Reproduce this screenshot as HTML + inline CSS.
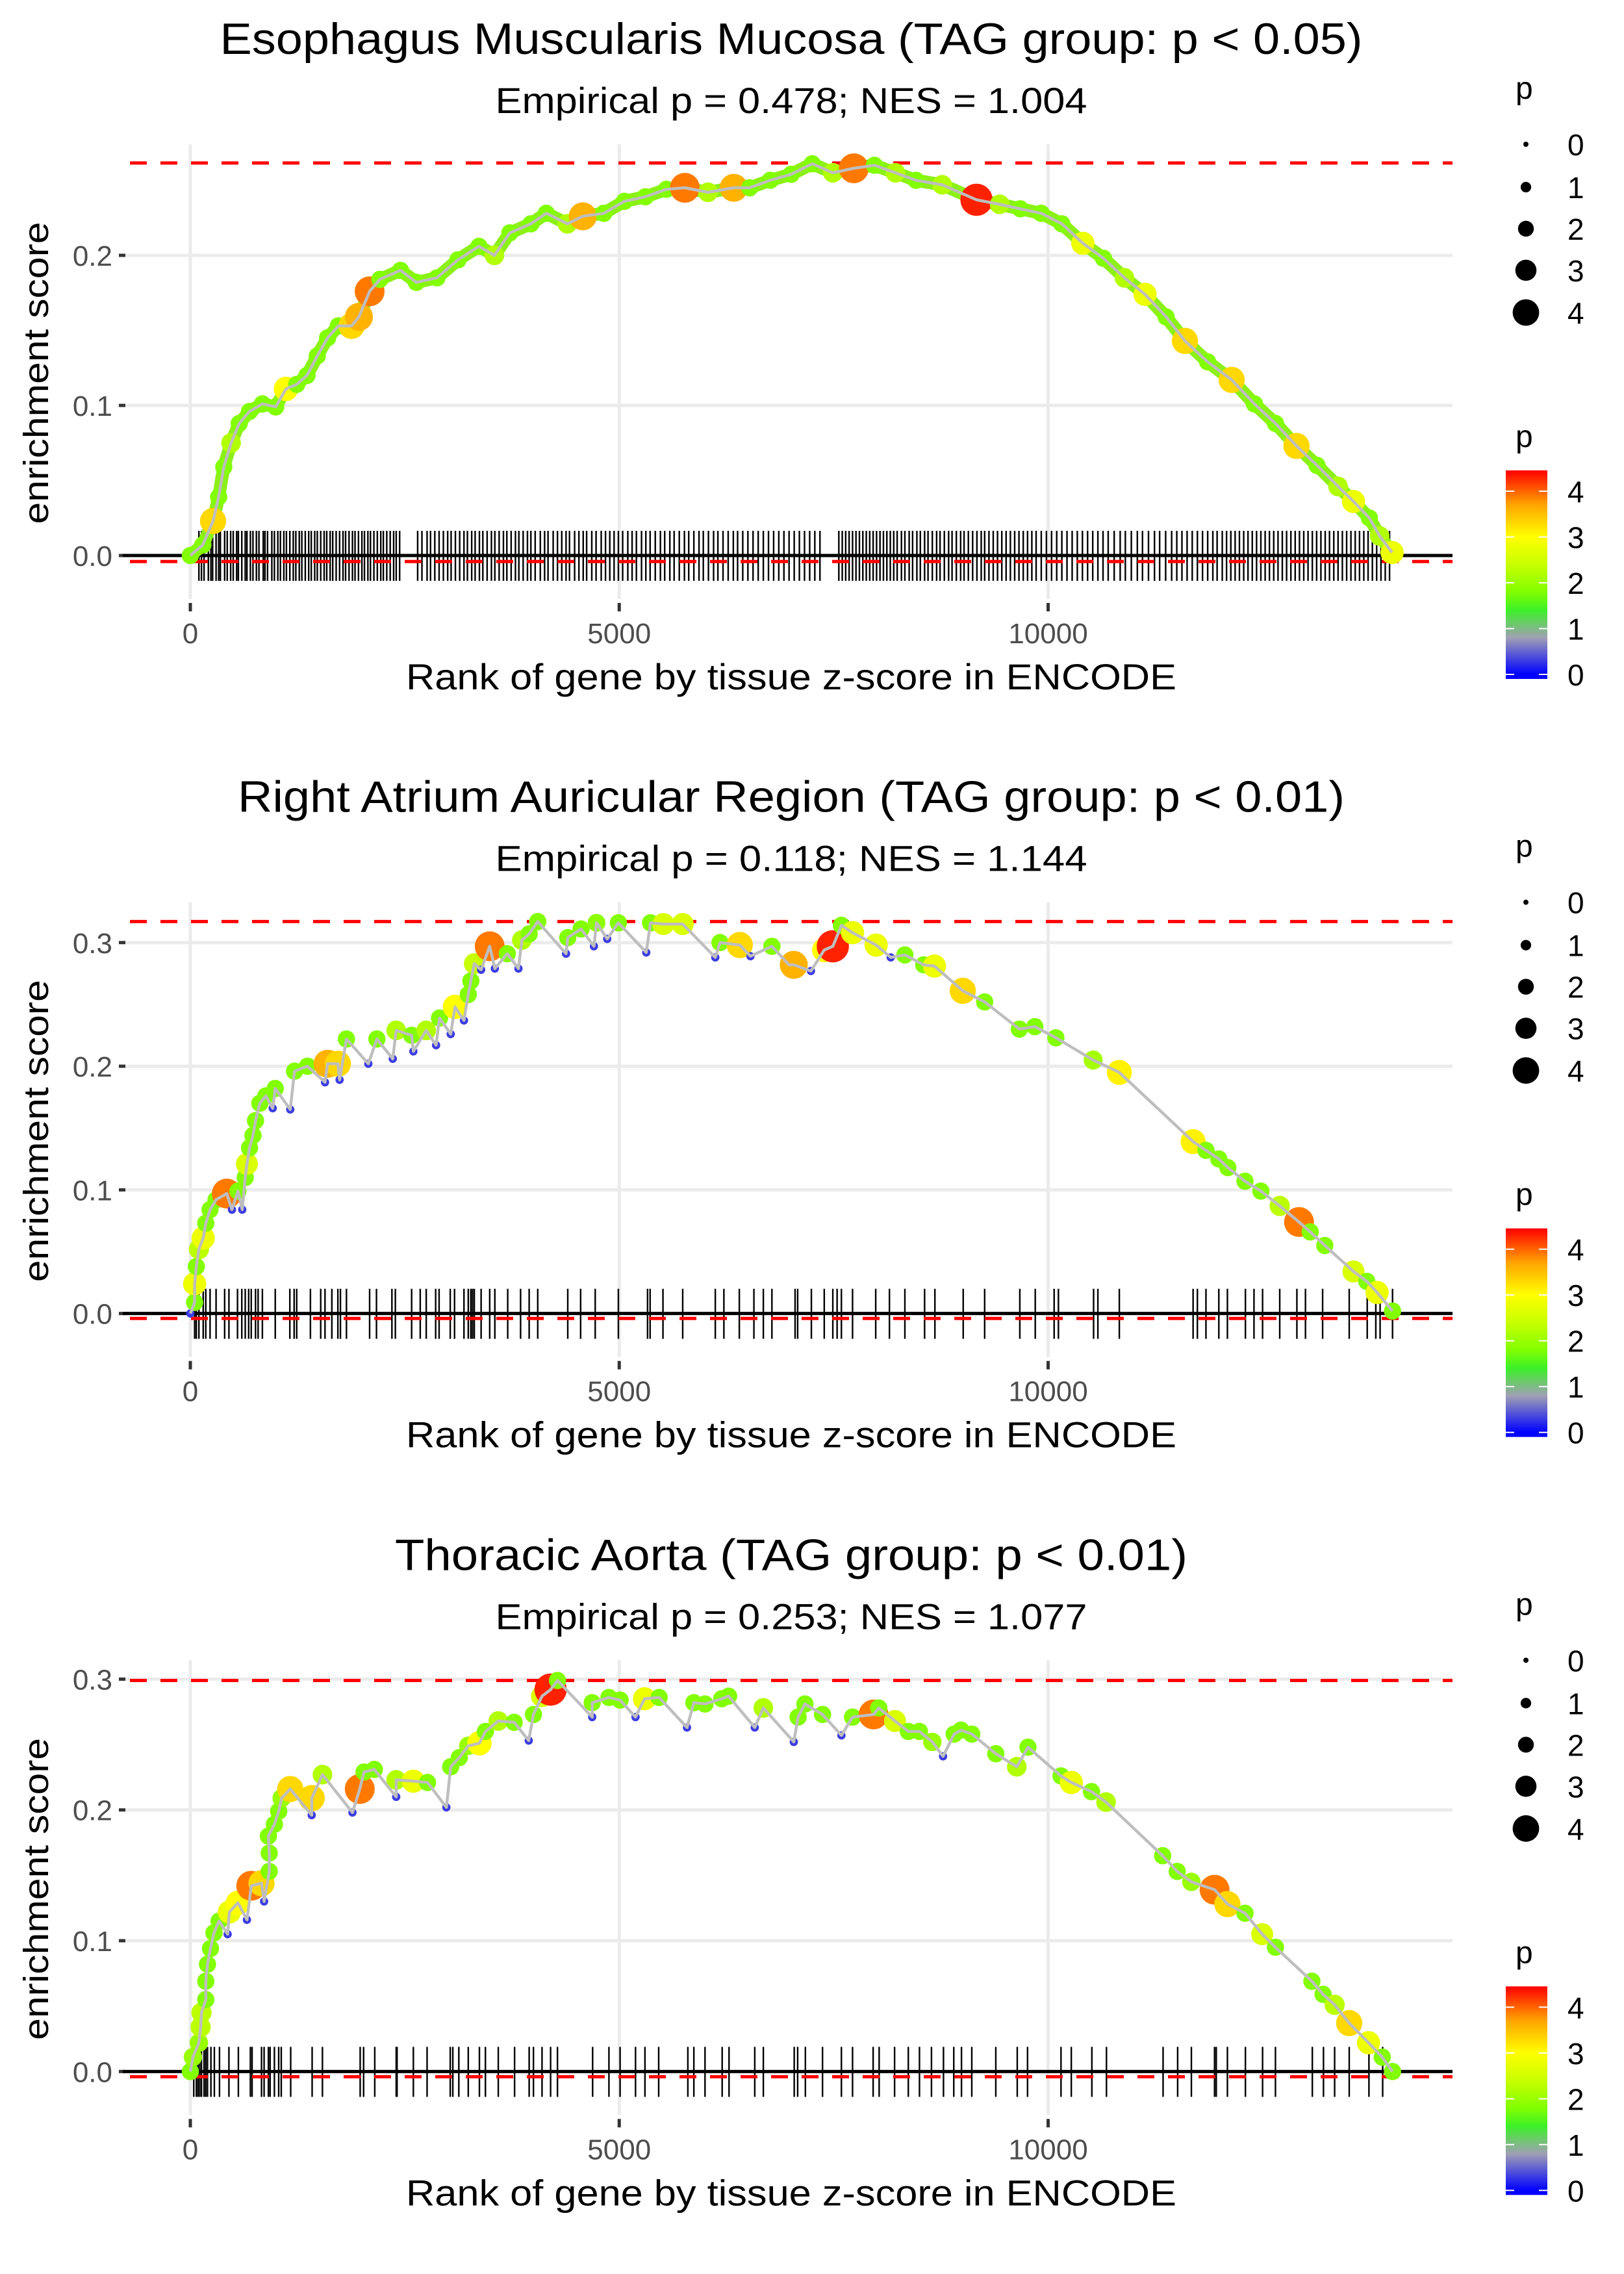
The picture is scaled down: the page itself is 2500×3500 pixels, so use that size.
<!DOCTYPE html>
<html><head><meta charset="utf-8">
<style>
html,body{margin:0;padding:0;background:#fff;}
svg{display:block;font-family:"Liberation Sans",sans-serif;}
</style></head>
<body>
<svg id="chart" width="2500" height="3500" viewBox="0 0 2500 3500" xmlns="http://www.w3.org/2000/svg"></svg>
<script>
// ---------- data ----------
const xTickValues = [0, 5000, 10000];
const xTickLabels = ["0", "5000", "10000"];
const panelTitles = ["Esophagus Muscularis Mucosa (TAG group: p < 0.05)","Right Atrium Auricular Region (TAG group: p < 0.01)","Thoracic Aorta (TAG group: p < 0.01)"];
const panelSubtitles = ["Empirical p = 0.478; NES = 1.004","Empirical p = 0.118; NES = 1.144","Empirical p = 0.253; NES = 1.077"];
const yTicks1 = [0.0, 0.1, 0.2];
const yTicks2 = [0.0, 0.1, 0.2, 0.3];
const yTicks3 = [0.0, 0.1, 0.2, 0.3];
const maxES = [0.2615, 0.317, 0.299];
const minES = [-0.004, -0.004, -0.004];
const legendSizes = [0, 1, 2, 3, 4];
const legendColorTicks = [0, 1, 2, 3, 4];

// [rank, enrichment score, p]
const esoHits = [[0,0,1.8],[145,0.007,1.8],[265,0.023,3.3],[330,0.039,1.8],[390,0.059,1.8],[475,0.075,2.2],[570,0.088,1.8],[690,0.096,1.8],[840,0.101,1.8],[995,0.099,1.8],[1115,0.111,3.0],[1240,0.114,1.8],[1360,0.120,1.8],[1480,0.133,1.8],[1600,0.145,1.8],[1725,0.153,1.8],[1880,0.153,3.3],[1965,0.159,3.6],[2090,0.176,3.9],[2210,0.184,1.8],[2450,0.190,1.8],[2635,0.182,1.8],[2875,0.185,1.8],[3120,0.197,1.8],[3365,0.206,1.8],[3545,0.200,2.2],[3725,0.215,1.8],[3970,0.221,1.8],[4150,0.228,1.8],[4395,0.221,2.2],[4575,0.226,3.6],[4820,0.228,1.8],[5060,0.236,1.8],[5305,0.239,1.8],[5550,0.244,1.8],[5765,0.245,3.9],[6035,0.242,2.2],[6335,0.245,3.6],[6520,0.245,1.8],[6760,0.250,1.8],[7005,0.254,1.8],[7250,0.261,1.8],[7490,0.255,2.2],[7735,0.258,3.9],[7975,0.260,1.8],[8220,0.255,2.2],[8460,0.250,1.8],[8765,0.247,2.2],[9165,0.237,4.3],[9435,0.234,2.2],[9675,0.231,1.8],[9920,0.228,1.8],[10160,0.221,1.8],[10405,0.208,2.8],[10645,0.198,1.8],[10890,0.185,2.2],[11130,0.174,2.8],[11375,0.159,1.8],[11595,0.143,3.3],[11860,0.129,1.8],[12140,0.117,3.3],[12405,0.101,1.8],[12650,0.088,1.8],[12895,0.073,3.3],[13135,0.060,1.8],[13380,0.046,2.2],[13560,0.036,2.8],[13745,0.025,1.8],[13865,0.013,2.2],[14010,0.002,2.8]];
const esoRug = [100,130,160,210,240,260,300,330,350,400,430,470,500,540,560,600,640,660,700,730,770,800,850,870,900,950,980,1020,1050,1090,1120,1160,1200,1230,1270,1300,1340,1380,1410,1450,1480,1520,1560,1590,1630,1660,1700,1740,1780,1810,1850,1890,1920,1960,2000,2030,2070,2100,2140,2180,2220,2250,2290,2330,2370,2400,2440,2650,2700,2760,2800,2850,2900,2950,3000,3040,3090,3140,3190,3230,3280,3320,3370,3410,3460,3510,3550,3600,3650,3690,3740,3790,3830,3880,3930,3970,4020,4080,4130,4170,4230,4280,4330,4380,4420,4480,4530,4580,4620,4680,4730,4790,4840,4890,4940,4990,5040,5100,5150,5200,5260,5310,5360,5420,5480,5530,5590,5640,5700,5760,5810,5870,5930,5980,6040,6100,6150,6210,6270,6330,6380,6440,6500,6560,6620,6680,6740,6800,6860,6920,6980,7040,7100,7160,7220,7280,7340,7560,7600,7640,7680,7720,7760,7800,7840,7880,7920,7960,8000,8040,8080,8120,8160,8200,8240,8290,8330,8380,8420,8470,8510,8560,8600,8650,8700,8740,8790,8840,8880,8930,8980,9020,9070,9120,9170,9220,9260,9310,9360,9410,9460,9510,9560,9610,9660,9710,9760,9810,9860,9920,9980,10040,10100,10160,10220,10280,10340,10400,10460,10520,10580,10640,10700,10770,10840,10900,10970,11040,11100,11170,11240,11300,11370,11440,11500,11560,11620,11680,11740,11800,11860,11920,11970,12030,12080,12130,12180,12230,12280,12330,12380,12430,12480,12530,12580,12630,12680,12730,12780,12830,12880,12930,12980,13030,13080,13130,13180,13230,13280,13330,13380,13430,13480,13530,13580,13630,13680,13730,13780,13830,13880,13930,13980];

const atriumHits = [[0,0,0.3],[50,0.009,1.8],[50,0.024,2.8],[70,0.038,1.8],[100,0.052,2.3],[150,0.061,2.8],[180,0.073,1.8],[230,0.084,1.8],[300,0.092,1.8],[425,0.097,3.9],[485,0.084,0.3],[555,0.099,1.8],[605,0.084,0.3],[640,0.110,1.8],[660,0.121,2.6],[690,0.134,1.8],[730,0.144,1.8],[760,0.156,1.8],[810,0.170,1.8],[880,0.176,1.8],[960,0.166,0.3],[990,0.182,1.8],[1165,0.165,0.3],[1215,0.196,1.8],[1365,0.200,1.8],[1570,0.187,0.3],[1600,0.202,3.6],[1720,0.202,3.3],[1740,0.189,0.3],[1820,0.222,1.8],[2075,0.202,0.3],[2175,0.222,1.8],[2360,0.206,0.3],[2400,0.229,2.2],[2580,0.225,1.8],[2600,0.212,0.3],[2750,0.229,2.2],[2865,0.217,0.3],[2905,0.239,1.8],[3035,0.226,0.3],[3085,0.248,3.0],[3190,0.237,0.3],[3240,0.258,1.8],[3270,0.269,1.8],[3310,0.283,2.4],[3390,0.278,0.3],[3490,0.297,3.9],[3550,0.279,0.3],[3695,0.291,1.8],[3825,0.279,0.3],[3865,0.302,2.2],[3950,0.307,1.8],[4050,0.317,1.8],[4380,0.291,0.3],[4400,0.304,1.8],[4555,0.311,1.8],[4705,0.297,0.3],[4735,0.316,1.9],[4860,0.303,0.3],[4990,0.316,1.8],[5315,0.292,0.3],[5365,0.316,1.8],[5515,0.315,2.6],[5740,0.315,2.6],[6120,0.288,0.3],[6175,0.300,1.8],[6405,0.298,3.3],[6530,0.289,0.3],[6780,0.297,1.8],[6980,0.282,0.3],[7035,0.282,3.6],[7235,0.277,0.3],[7390,0.294,3.0],[7490,0.297,4.3],[7590,0.314,1.8],[7720,0.308,2.8],[7995,0.298,2.8],[8165,0.288,0.3],[8330,0.290,1.8],[8550,0.282,1.8],[8675,0.281,2.8],[9005,0.261,3.3],[9260,0.252,1.8],[9665,0.230,1.8],[9845,0.232,1.8],[10090,0.223,1.8],[10525,0.205,2.1],[10830,0.195,3.1],[11690,0.139,3.1],[11840,0.132,1.8],[11990,0.125,1.8],[12095,0.118,1.8],[12295,0.107,1.8],[12480,0.099,1.8],[12700,0.087,2.3],[12925,0.074,3.9],[13055,0.066,1.8],[13225,0.055,1.8],[13560,0.034,2.6],[13715,0.026,1.8],[13835,0.017,2.8],[14015,0.002,1.8]];
const atriumRug = [50,70,100,150,180,230,300,400,450,550,600,640,680,710,760,790,840,990,1160,1210,1240,1400,1520,1570,1650,1720,1750,1820,2090,2170,2350,2390,2580,2680,2750,2860,2900,3030,3080,3190,3240,3270,3290,3310,3390,3490,3550,3700,3850,3950,4050,4400,4550,4720,4990,5330,5360,5510,5740,6120,6220,6400,6570,6680,6780,7050,7080,7240,7390,7490,7540,7590,7720,7990,8150,8330,8560,8680,9010,9260,9670,9850,10070,10120,10530,10580,10830,11690,11740,11840,11990,12090,12300,12400,12500,12700,12900,13000,13200,13510,13720,13820,13870,14015];

const aortaHits = [[0,0,1.8],[30,0.011,2.0],[100,0.022,2.0],[120,0.034,2.3],[130,0.045,2.3],[180,0.055,1.8],[180,0.069,1.8],[200,0.082,1.8],[235,0.094,1.8],[275,0.106,1.8],[335,0.115,1.8],[435,0.105,0.3],[455,0.122,2.8],[555,0.129,3.0],[660,0.116,0.3],[710,0.142,3.9],[830,0.144,3.3],[860,0.130,0.3],[920,0.153,1.8],[920,0.167,1.8],[910,0.180,1.8],[980,0.189,1.8],[1030,0.199,1.8],[1065,0.209,2.0],[1165,0.216,3.3],[1415,0.196,0.3],[1415,0.209,3.3],[1540,0.227,2.2],[1890,0.198,0.3],[1975,0.216,3.9],[2025,0.229,1.8],[2145,0.231,1.8],[2400,0.210,0.3],[2400,0.223,2.2],[2600,0.222,2.8],[2765,0.221,1.8],[2985,0.202,0.3],[3035,0.233,1.8],[3135,0.240,1.8],[3240,0.249,2.0],[3370,0.251,3.0],[3440,0.260,1.8],[3590,0.268,2.2],[3775,0.267,1.8],[3945,0.253,0.3],[4000,0.273,1.8],[4100,0.287,2.6],[4200,0.292,4.3],[4280,0.299,1.8],[4685,0.271,0.3],[4685,0.282,1.8],[4880,0.286,1.8],[5010,0.284,1.8],[5190,0.271,0.3],[5295,0.285,2.8],[5465,0.286,1.8],[5790,0.263,0.3],[5870,0.282,1.8],[6000,0.281,1.8],[6195,0.285,1.8],[6275,0.287,1.8],[6580,0.263,0.3],[6680,0.278,2.2],[7035,0.252,0.3],[7085,0.271,1.8],[7165,0.281,1.8],[7370,0.273,1.8],[7590,0.257,0.3],[7720,0.271,1.8],[7965,0.273,3.9],[8025,0.278,1.8],[8215,0.268,2.6],[8370,0.260,1.8],[8500,0.260,1.8],[8650,0.252,2.0],[8775,0.241,0.3],[8905,0.258,1.8],[8985,0.261,1.8],[9110,0.258,1.8],[9390,0.243,1.8],[9635,0.233,2.2],[9765,0.248,1.8],[10150,0.226,1.8],[10270,0.221,2.8],[10505,0.214,1.8],[10675,0.206,2.2],[11335,0.165,1.8],[11505,0.153,1.8],[11670,0.145,2.0],[11940,0.139,3.9],[12090,0.128,3.3],[12295,0.121,1.8],[12495,0.105,2.6],[12650,0.095,1.8],[13075,0.069,1.8],[13205,0.059,1.8],[13340,0.051,2.3],[13510,0.037,3.3],[13735,0.022,2.8],[13895,0.011,1.8],[14015,0.000,1.8]];
const aortaRug = [40,70,90,110,130,160,180,200,240,280,340,450,560,700,720,830,860,910,930,980,1030,1060,1170,1420,1540,1980,2020,2150,2400,2410,2600,2760,3030,3060,3130,3240,3370,3440,3590,3780,3950,4000,4100,4200,4280,4690,4880,5010,5190,5300,5460,5800,5870,6000,6200,6280,6580,6680,7040,7080,7170,7370,7590,7720,7960,8030,8210,8370,8500,8640,8780,8900,8990,9110,9390,9640,9760,10150,10270,10510,10680,11340,11510,11670,11940,11960,12090,12300,12500,12650,13080,13210,13340,13510,13740,13900];

// ---------- layout helpers ----------
const NS = "http://www.w3.org/2000/svg";
const svg = document.getElementById("chart");
const PANEL_H = 3500 / 3;
const PX0 = 189, PX1 = 2236, PY0 = 222, PY1 = 922, ZERO_Y = 855;
function xScale(r) { return 293 + r * 0.13205; }
function mk(tag, attrs, parent) {
  const el = document.createElementNS(NS, tag);
  for (const k in attrs) el.setAttribute(k, attrs[k]);
  parent.appendChild(el);
  return el;
}
const stops = [[0,[0,0,255]],[0.8,[160,160,180]],[1.4,[60,240,40]],[1.8,[130,255,0]],[2.4,[200,255,0]],[3.0,[255,255,0]],[3.7,[255,165,0]],[4.45,[255,0,0]]];
function pColor(p) {
  if (p <= stops[0][0]) return "rgb(0,0,255)";
  for (let i = 1; i < stops.length; i++) {
    if (p <= stops[i][0]) {
      const a = stops[i-1], b = stops[i], t = (p - a[0]) / (b[0] - a[0]);
      const c = a[1].map((v, j) => Math.round(v + (b[1][j] - v) * t));
      return "rgb(" + c.join(",") + ")";
    }
  }
  return "rgb(255,0,0)";
}
function pRadius(p) { return 4 + 4.1 * p; }
function pointRadius(p) { return 5 + 4.6 * p; }

const panels = [
  {hits: esoHits, rug: esoRug, ticks: yTicks1, k: 2310, name: "esophagus"},
  {hits: atriumHits, rug: atriumRug, ticks: yTicks2, k: 1903, name: "right-atrium"},
  {hits: aortaHits, rug: aortaRug, ticks: yTicks3, k: 2013, name: "thoracic-aorta"}
];

panels.forEach((pn, i) => {
  const g = mk("g", {transform: "translate(0," + (i * PANEL_H) + ")"}, svg);
  
  
  const yScale = es => ZERO_Y - es * pn.k;

  const tw = [1759, 1704, 1220][i];
  const t = mk("text", {x: 1218, y: 83, "text-anchor": "middle", "font-size": 68, fill: "#000", textLength: tw, lengthAdjust: "spacingAndGlyphs"}, g);
  t.textContent = panelTitles[i];
  
  
  const st = mk("text", {x: 1218, y: 174, "text-anchor": "middle", "font-size": 56, fill: "#000", textLength: 911, lengthAdjust: "spacingAndGlyphs"}, g);
  st.textContent = panelSubtitles[i];
  
  

  xTickValues.forEach(v => {
    const l = mk("line", {x1: xScale(v), x2: xScale(v), y1: PY0, y2: PY1, stroke: "#ebebeb", "stroke-width": 5}, g);
    
    
  });
  pn.ticks.forEach(v => {
    const l = mk("line", {x1: PX0, x2: PX1, y1: yScale(v), y2: yScale(v), stroke: "#ebebeb", "stroke-width": 5}, g);
    
    
  });

  pn.ticks.forEach(v => {
    const tk = mk("line", {x1: 183, x2: 193, y1: yScale(v), y2: yScale(v), stroke: "#333", "stroke-width": 5}, g);
    
    
    const lb = mk("text", {x: 173, y: yScale(v) + 16, "text-anchor": "end", "font-size": 44, fill: "#4d4d4d"}, g);
    lb.textContent = v.toFixed(1);
    
    
  });
  xTickValues.forEach((v, j) => {
    const tk = mk("line", {x1: xScale(v), x2: xScale(v), y1: 928, y2: 941, stroke: "#333", "stroke-width": 5}, g);
    
    
    const lb = mk("text", {x: xScale(v), y: 990, "text-anchor": "middle", "font-size": 44, fill: "#4d4d4d"}, g);
    lb.textContent = xTickLabels[j];
    
    
  });

  const xt = mk("text", {x: 1218, y: 1061, "text-anchor": "middle", "font-size": 56, fill: "#000", textLength: 1186, lengthAdjust: "spacingAndGlyphs"}, g);
  xt.textContent = "Rank of gene by tissue z-score in ENCODE";
  
  
  const yt = mk("text", {x: 0, y: 0, transform: "translate(74,574) rotate(-90)", "text-anchor": "middle", "font-size": 54, fill: "#000", textLength: 465, lengthAdjust: "spacingAndGlyphs"}, g);
  yt.textContent = "enrichment score";
  
  

  pn.rug.forEach(r => {
    const l = mk("line", {x1: xScale(r), x2: xScale(r), y1: ZERO_Y - 38, y2: ZERO_Y + 39, stroke: "#000", "stroke-width": 2.4}, g);
    
    
  });

  const zl = mk("line", {x1: PX0, x2: PX1, y1: ZERO_Y, y2: ZERO_Y, stroke: "#000", "stroke-width": 5}, g);
  
  

  [maxES[i], minES[i]].forEach((v, j) => {
    const l = mk("line", {x1: 200, x2: PX1, y1: yScale(v), y2: yScale(v), stroke: "#ff0000", "stroke-width": 5, "stroke-dasharray": "26 21"}, g);
    
    
  });

  const pts = pn.hits.map(h => xScale(h[0]).toFixed(1) + "," + yScale(h[1]).toFixed(1)).join(" ");
  if (i === 0) {
    const band = mk("polyline", {points: pts, fill: "none", stroke: "#8cf018", "stroke-width": 20, "stroke-linejoin": "round", "stroke-linecap": "round"}, g);
    
    
  }
  pn.hits.forEach(h => {
    const c = mk("circle", {cx: xScale(h[0]), cy: yScale(h[1]), r: pointRadius(h[2]), fill: pColor(h[2])}, g);
    
    
  });
  const line = mk("polyline", {points: pts, fill: "none", stroke: "#bebebe", "stroke-width": 4.5, "stroke-linejoin": "round"}, g);
  
  

  const sl = mk("text", {x: 2333, y: 152, "font-size": 48, fill: "#000"}, g);
  sl.textContent = "p";
  
  
  const sy = [222, 288, 352, 416, 481];
  legendSizes.forEach((s, j) => {
    const c = mk("circle", {cx: 2349, cy: sy[j], r: pRadius(s), fill: "#000"}, g);
    
    
    const tx = mk("text", {x: 2413, y: sy[j] + 17, "font-size": 46, fill: "#000"}, g);
    tx.textContent = String(s);
    
    
  });

  const cl = mk("text", {x: 2333, y: 688, "font-size": 48, fill: "#000"}, g);
  cl.textContent = "p";
  
  
  const gid = "cbar" + i;
  const defs = mk("defs", {}, g);
  const lg = mk("linearGradient", {id: gid, x1: 0, y1: 1, x2: 0, y2: 0}, defs);
  const pMin = -0.1, pMax = 4.45;
  stops.forEach(s => {
    mk("stop", {offset: ((s[0] - pMin) / (pMax - pMin)).toFixed(3), "stop-color": "rgb(" + s[1].join(",") + ")"}, lg);
  });
  const bar = mk("rect", {x: 2318, y: 724, width: 64, height: 321, fill: "url(#" + gid + ")"}, g);
  
  
  legendColorTicks.forEach(v => {
    const yy = 1038 - v * 70.5;
    const a = mk("line", {x1: 2318, x2: 2331, y1: yy, y2: yy, stroke: "#fff", "stroke-width": 2}, g);
    
    
    const b = mk("line", {x1: 2369, x2: 2382, y1: yy, y2: yy, stroke: "#fff", "stroke-width": 2}, g);
    
    
    const tx = mk("text", {x: 2413, y: yy + 17, "font-size": 46, fill: "#000"}, g);
    tx.textContent = String(v);
    
    
  });
});
</script>
</body></html>
